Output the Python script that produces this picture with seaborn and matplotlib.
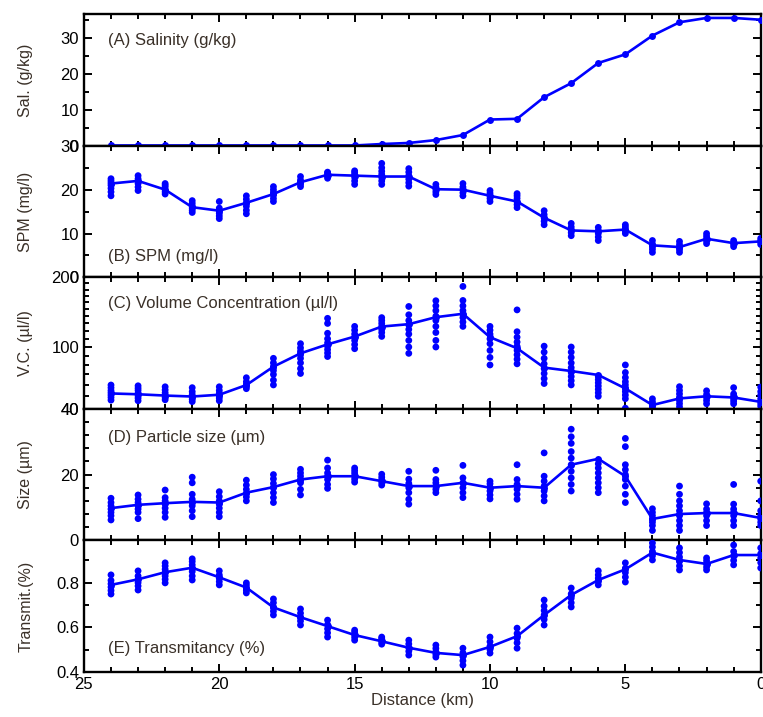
import numpy as np
import pandas as pd
import matplotlib
matplotlib.use('Agg')
import matplotlib.pyplot as plt
import seaborn as sns
from matplotlib.ticker import MultipleLocator, FixedLocator

# ---------------- data (stations from 24 km to 0 km) ----------------
km = [24, 23, 22, 21, 20, 19, 18, 17, 16, 15, 14, 13, 12, 11, 10, 9, 8, 7, 6, 5, 4, 3, 2, 1, 0]

sal_mean = [0.1, 0.1, 0.1, 0.1, 0.1, 0.1, 0.1, 0.1, 0.1, 0.1, 0.5, 0.8, 1.6, 3.0, 7.3,
            7.5, 13.5, 17.4, 23.0, 25.4, 30.6, 34.3, 35.5, 35.5, 35.0]

spm_mean = [21.4, 22.0, 20.0, 16.0, 15.2, 17.0, 19.0, 21.7, 23.4, 23.2, 23.0, 23.0, 20.1,
            20.0, 18.6, 17.3, 13.6, 10.7, 10.5, 10.9, 7.3, 6.9, 8.8, 7.8, 8.2]
spm_samples = [
    [18.6, 19.5, 20.3, 21.0, 21.5, 22.0, 22.5],
    [19.8, 20.6, 21.4, 22.0, 22.5, 23.2],
    [19.0, 19.5, 20.0, 20.6, 21.0, 21.4],
    [14.8, 15.3, 15.8, 16.3, 16.9, 17.5],
    [13.4, 14.0, 14.6, 15.2, 15.8, 17.3],
    [14.5, 15.3, 16.2, 17.0, 17.8, 18.6],
    [17.3, 18.0, 18.8, 19.4, 20.0, 20.7],
    [20.7, 21.2, 21.7, 22.2, 23.0],
    [22.6, 23.0, 23.4, 23.8, 24.0],
    [21.2, 22.0, 22.8, 23.4, 23.9, 24.3],
    [21.2, 22.0, 22.8, 23.5, 24.2, 25.0, 26.0],
    [20.8, 21.6, 22.4, 23.2, 24.0, 24.8],
    [18.9, 19.5, 20.1, 20.6, 21.2],
    [18.6, 19.3, 20.0, 20.6, 21.4],
    [17.3, 18.0, 18.6, 19.2, 19.8],
    [15.9, 16.6, 17.3, 18.0, 18.6, 19.1],
    [12.0, 12.8, 13.6, 14.3, 15.2],
    [9.5, 10.2, 10.8, 11.5, 12.3],
    [8.4, 9.2, 10.0, 10.6, 11.4],
    [10.0, 10.5, 11.0, 11.5, 12.0],
    [5.7, 6.4, 7.0, 7.6, 8.4],
    [5.7, 6.3, 6.9, 7.5, 8.2],
    [7.7, 8.3, 8.8, 9.4, 10.0],
    [7.0, 7.5, 7.9, 8.4],
    [7.5, 8.0, 8.4, 8.9],
]

vc_mean = [52.4, 51.7, 50.6, 49.8, 51.3, 59.9, 78.0, 92.6, 103.2, 112.8, 125.8, 129.0, 138.6,
           143.4, 112.0, 98.5, 77.0, 73.5, 69.5, 56.8, 42.9, 48.2, 50.0, 49.0, 45.4]
vc_samples = [
    [46.8, 49, 51, 53, 55, 57.5, 59.9],
    [46.3, 48.5, 50.5, 52.5, 55, 57, 59.2],
    [47.1, 49, 51, 53, 55.5, 58.3],
    [45.6, 47.5, 49.5, 51.5, 54, 57.5],
    [46.3, 48.5, 50.5, 52.5, 55, 58.3],
    [56.6, 58.5, 60.5, 63, 66.8],
    [60, 64.5, 70, 74, 78, 82, 87],
    [71, 76, 82, 87, 91, 95, 99, 104],
    [89, 93, 97, 101, 105, 110, 117, 130, 137],
    [98, 103, 108, 112, 116, 121, 126],
    [113, 118, 122, 126, 130, 134, 138],
    [92.6, 100, 108, 116, 122, 128, 134, 142, 154],
    [100, 108, 118, 126, 134, 140, 148, 155, 162.6],
    [126, 132, 138, 143, 148, 155, 163, 185],
    [79.8, 88, 96, 104, 110, 116, 121, 126],
    [81, 86, 91, 96, 101, 106, 112, 119, 149],
    [61.3, 66, 71, 76, 81, 87, 94, 101],
    [60, 64, 68, 72, 77, 82, 88, 94, 100],
    [50, 53, 56, 59, 62, 65, 68],
    [40.5, 48, 51, 54, 57, 60, 63, 67, 72, 79.8],
    [41, 42.5, 44, 45.5, 47.9],
    [41.5, 44, 46.5, 49, 52, 55, 58.4],
    [43.9, 46.5, 49, 51.5, 54.7],
    [43.9, 46, 48, 50, 52, 57.5],
    [42, 44, 46, 48, 51, 54, 58],
]

size_mean = [9.8, 10.8, 11.3, 11.7, 11.5, 14.5, 16.2, 18.5, 19.5, 19.5, 18.0, 16.5, 16.5,
             17.5, 16.0, 16.5, 16.0, 23.0, 24.8, 19.5, 6.5, 8.0, 8.3, 8.3, 6.8]
size_samples = [
    [6.2, 7.5, 8.5, 9.5, 10.5, 11.5, 12.8],
    [6.6, 8.5, 9.5, 10.5, 11.5, 12.5, 13.8],
    [7.0, 8.5, 9.8, 11, 12, 13, 15.3],
    [7.2, 9, 10.5, 11.5, 12.5, 14, 17.5, 19.2],
    [7.2, 8.5, 9.8, 11, 12, 13.3, 14.8],
    [12, 13.2, 14.3, 15.5, 16.8, 18.3],
    [11.5, 13, 14.5, 16, 17.3, 18.7, 20],
    [13.8, 15.5, 17.5, 18.5, 19.5, 20.5, 21.6],
    [15.8, 17, 18.5, 19.5, 20.5, 22, 24.4],
    [17.7, 18.6, 19.5, 20.4, 21.2, 22],
    [16.8, 17.6, 18.4, 19.2, 20.1],
    [11, 12.5, 14.5, 16, 17.3, 18.6, 21],
    [14.5, 15.5, 16.5, 17.5, 18.5, 21.3],
    [13, 14.5, 16, 17.5, 19, 22.8],
    [12.6, 13.8, 15, 16.2, 17.2, 18],
    [12.5, 14, 15.5, 17, 18.5, 23],
    [12, 13.5, 15, 16.5, 18, 19.5, 26.6],
    [15, 17, 19, 21, 23, 25, 27, 29.5, 31.5, 33.8],
    [14.5, 16, 17.5, 19, 20.5, 22, 23.3],
    [11.5, 14, 16.5, 18.5, 20, 21.5, 23, 28.5, 31],
    [3, 4.5, 5.5, 6.5, 7.5, 8.5, 9.6],
    [3, 4.5, 6, 7.5, 9, 10.5, 12, 14, 16.5],
    [4.5, 6, 7.5, 8.5, 9.5, 11.1],
    [4.5, 6, 7.5, 8.5, 9.5, 11, 17],
    [4.5, 5.5, 6.5, 7.5, 9, 12, 18],
]

tr_mean = [0.79, 0.815, 0.847, 0.867, 0.824, 0.778, 0.689, 0.645, 0.605, 0.565, 0.537, 0.508,
           0.485, 0.475, 0.512, 0.56, 0.655, 0.745, 0.812, 0.86, 0.935, 0.902, 0.884, 0.924, 0.924]
tr_samples = [
    [0.749, 0.765, 0.78, 0.795, 0.81, 0.835],
    [0.767, 0.785, 0.80, 0.815, 0.83, 0.853],
    [0.799, 0.815, 0.83, 0.845, 0.86, 0.875, 0.889],
    [0.812, 0.83, 0.85, 0.865, 0.88, 0.895, 0.907],
    [0.79, 0.805, 0.82, 0.835, 0.853],
    [0.754, 0.765, 0.775, 0.788, 0.799],
    [0.655, 0.672, 0.69, 0.71, 0.727],
    [0.61, 0.628, 0.645, 0.663, 0.682],
    [0.556, 0.575, 0.593, 0.612, 0.632],
    [0.542, 0.555, 0.567, 0.578, 0.587],
    [0.524, 0.533, 0.542, 0.55, 0.556],
    [0.475, 0.492, 0.508, 0.525, 0.542],
    [0.466, 0.478, 0.49, 0.505, 0.52],
    [0.43, 0.45, 0.468, 0.485, 0.506],
    [0.484, 0.5, 0.515, 0.535, 0.556],
    [0.506, 0.53, 0.55, 0.572, 0.596],
    [0.61, 0.635, 0.655, 0.675, 0.695, 0.722],
    [0.691, 0.71, 0.73, 0.75, 0.776],
    [0.79, 0.805, 0.82, 0.835, 0.853],
    [0.803, 0.825, 0.845, 0.865, 0.889],
    [0.902, 0.92, 0.94, 0.96, 0.978],
    [0.857, 0.875, 0.895, 0.915, 0.935, 0.956],
    [0.857, 0.87, 0.884, 0.898, 0.911],
    [0.88, 0.9, 0.92, 0.94, 0.969],
    [0.866, 0.89, 0.91, 0.93, 0.956],
]

panel_titles = ["(A) Salinity (g/kg)", "(B) SPM (mg/l)", "(C) Volume Concentration (\u00b5l/l)",
                "(D) Particle size (\u00b5m)", "(E) Transmitancy (%)"]
y_labels = ["Sal. (g/kg)", "SPM (mg/l)", "V.C. (\u00b5l/l)", "Size (\u00b5m)", "Transmit.(%)"]
x_label = "Distance (km)"

# ---------------- style ----------------
sns.set_style('ticks')
plt.rcParams['font.family'] = ['Liberation Sans', 'DejaVu Sans']
BLUE = '#0000ff'
TXT = '#3a3028'


def long_form(samples):
    rows = []
    for k, vals in zip(km, samples):
        for v in vals:
            rows.append((k, v))
    return pd.DataFrame(rows, columns=['km', 'v'])


fig, axes = plt.subplots(5, 1, figsize=(7.63, 7.17), dpi=100, sharex=True)
fig.subplots_adjust(left=0.110, right=0.997, top=0.980, bottom=0.063, hspace=0)

means = [sal_mean, spm_mean, vc_mean, size_mean, tr_mean]
samples = [None, spm_samples, vc_samples, size_samples, tr_samples]
title_pos = [(0.035, 0.80), (0.035, 0.155), (0.035, 0.80), (0.035, 0.78), (0.035, 0.18)]

for i, ax in enumerate(axes):
    if samples[i] is not None:
        df = long_form(samples[i])
        sns.scatterplot(data=df, x='km', y='v', ax=ax, color=BLUE, s=24,
                        edgecolor='none', linewidth=0, zorder=3)
    sns.lineplot(x=km, y=means[i], ax=ax, color=BLUE, lw=1.9, marker='o',
                 markersize=5, markeredgewidth=0, zorder=4)
    ax.set_ylabel(y_labels[i], fontsize=11.5, color=TXT)
    ax.yaxis.set_label_coords(-0.075, 0.5)
    ax.text(title_pos[i][0], title_pos[i][1], panel_titles[i], transform=ax.transAxes,
            fontsize=12, color=TXT, va='center', ha='left')
    for s in ax.spines.values():
        s.set_visible(True)
        s.set_linewidth(1.7)
        s.set_color('black')
    ax.tick_params(which='both', direction='in', top=True, right=True, width=1.4,
                   colors='black', labelsize=12)
    ax.tick_params(which='major', length=5.5)
    ax.tick_params(which='minor', length=3.5)
    ax.xaxis.set_major_locator(MultipleLocator(5))
    ax.xaxis.set_minor_locator(MultipleLocator(1))
    ax.set_xlabel('')

axes[0].set_xlim(25, 0)

# panel A
axes[0].set_ylim(0, 36.5)
axes[0].yaxis.set_major_locator(FixedLocator([0, 10, 20, 30]))
axes[0].yaxis.set_minor_locator(MultipleLocator(5))
# panel B
axes[1].set_ylim(0, 30)
axes[1].yaxis.set_major_locator(FixedLocator([0, 10, 20, 30]))
axes[1].yaxis.set_minor_locator(MultipleLocator(5))
# panel C (square-root scale)
axes[2].set_yscale('function', functions=(lambda v: np.sqrt(np.clip(v, 0, None)), np.square))
axes[2].set_ylim(40, 200)
axes[2].yaxis.set_major_locator(FixedLocator([40, 100, 200]))
axes[2].yaxis.set_minor_locator(FixedLocator([50, 60, 70, 80, 90, 110, 120, 130, 140, 150,
                                              160, 170, 180, 190]))
axes[2].yaxis.set_major_formatter(matplotlib.ticker.FormatStrFormatter('%d'))
axes[2].yaxis.set_minor_formatter(matplotlib.ticker.NullFormatter())
# panel D
axes[3].set_ylim(0, 40)
axes[3].yaxis.set_major_locator(FixedLocator([0, 20, 40]))
axes[3].yaxis.set_minor_locator(MultipleLocator(4))
# panel E
axes[4].set_ylim(0.4, 0.99)
axes[4].yaxis.set_major_locator(FixedLocator([0.4, 0.6, 0.8]))
axes[4].yaxis.set_minor_locator(FixedLocator([0.5, 0.7, 0.9]))
axes[4].set_xlabel(x_label, fontsize=12, color=TXT, labelpad=1)

fig.savefig('out.png', dpi=100)
